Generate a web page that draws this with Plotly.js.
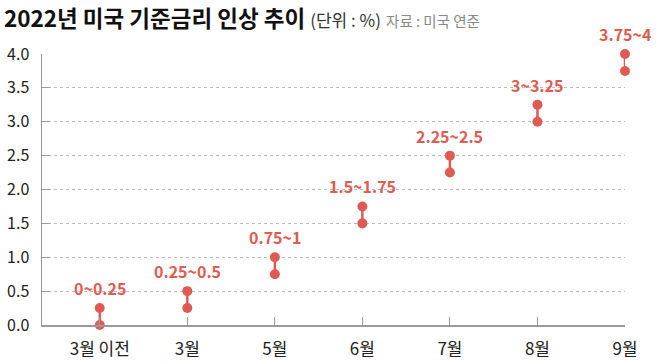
<!DOCTYPE html>
<html>
<head>
<meta charset="utf-8">
<script src="https://cdn.plot.ly/plotly-3.0.1.min.js"></script>
<style>html,body{margin:0;padding:0;background:#fff;}#chart{width:659px;height:364px;}</style>
</head>
<body>
<div id="chart"></div>
<script>
const categories = ['3월 이전', '3월', '5월', '6월', '7월', '8월', '9월'];
const lowRates = [0, 0.25, 0.75, 1.5, 2.25, 3, 3.75];
const highRates = [0.25, 0.5, 1, 1.75, 2.5, 3.25, 4];
const rangeLabels = ['0~0.25', '0.25~0.5', '0.75~1', '1.5~1.75', '2.25~2.5', '3~3.25', '3.75~4'];
const yTicks = [0, 0.5, 1, 1.5, 2, 2.5, 3, 3.5, 4];

const RED = '#df5b52';
const FONT = '"Noto Sans CJK KR", "Noto Sans", sans-serif';

const traces = categories.map((c, i) => ({
  type: 'scatter',
  mode: 'lines+markers',
  x: [c, c],
  y: [lowRates[i], highRates[i]],
  line: {color: RED, width: 2.5},
  marker: {color: RED, size: 10},
  cliponaxis: false,
  hoverinfo: 'skip',
  showlegend: false
}));

const annotations = categories.map((c, i) => ({
  x: c, y: highRates[i], xref: 'x', yref: 'y',
  text: rangeLabels[i], showarrow: false, yshift: 20,
  font: {family: FONT, size: 16, color: RED, weight: 700}
}));

const layout = {
  width: 659, height: 364,
  margin: {l: 42, r: 34, t: 54, b: 39},
  paper_bgcolor: '#fff', plot_bgcolor: '#fff',
  font: {family: FONT, color: '#222'},
  title: {
    text: '<b>2022년 미국 기준금리 인상 추이</b> <span style="font-size:17px;color:#333">(단위 : %)</span> <span style="font-size:14.5px;color:#888">자료 : 미국 연준</span>',
    font: {family: FONT, size: 22.5, color: '#111'},
    xref: 'container', yref: 'container', x: 0.006, xanchor: 'left', y: 1 - 19/364, yanchor: 'middle'
  },
  xaxis: {
    type: 'category', categoryarray: categories,
    range: [-0.66, 6],
    showgrid: false, zeroline: false,
    showline: true, linecolor: '#999', linewidth: 1.5,
    ticks: 'inside', ticklen: 8, tickcolor: '#999', tickwidth: 1,
    tickfont: {family: FONT, size: 17, color: '#222'},
    ticklabelstandoff: 8
  },
  yaxis: {
    range: [0, 4], tickvals: yTicks, ticktext: yTicks.map(v => v.toFixed(1)),
    showgrid: true, gridcolor: '#bbb', griddash: 'dot', gridwidth: 1,
    zeroline: false,
    showline: true, linecolor: '#999', linewidth: 1.5,
    ticks: 'inside', ticklen: 8, tickcolor: '#999', tickwidth: 1,
    tickfont: {family: FONT, size: 16, color: '#222'},
    ticklabelstandoff: 8
  },
  annotations: annotations
};

Plotly.newPlot('chart', traces, layout, {displayModeBar: false, staticPlot: true});
</script>
</body>
</html>
